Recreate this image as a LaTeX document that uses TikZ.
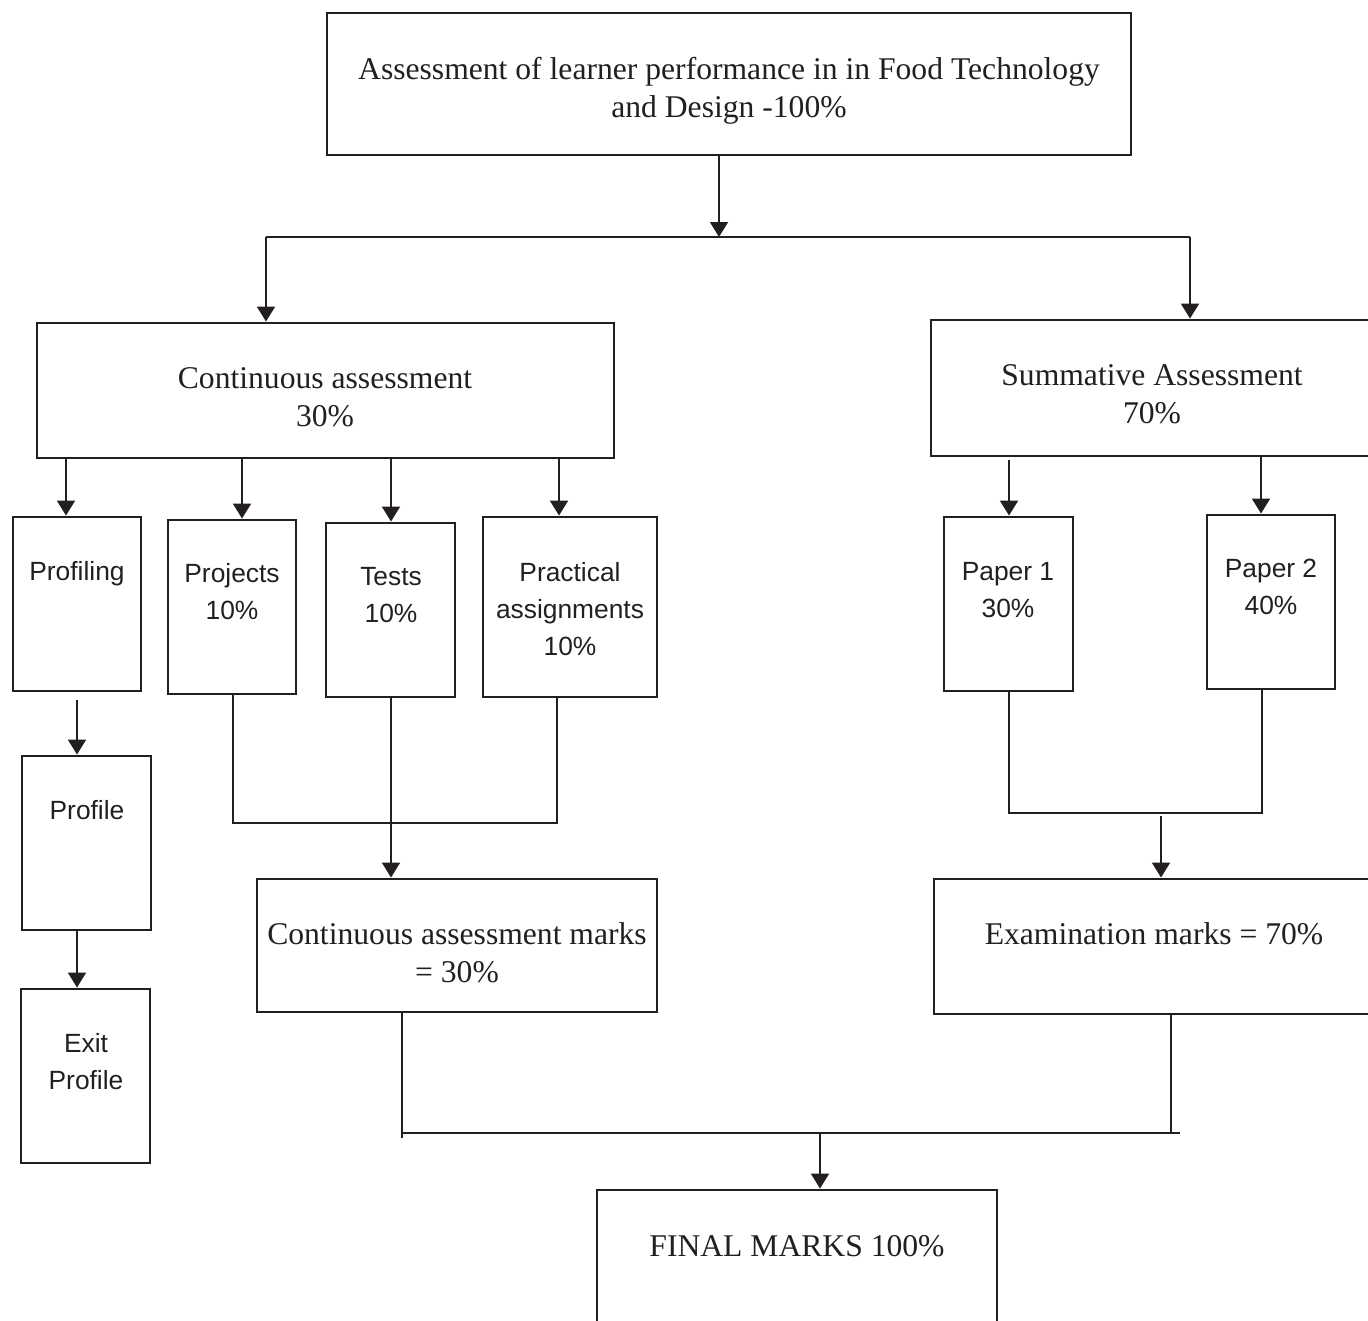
\documentclass[tikz,border=0pt]{standalone}
\usepackage{fontspec}
\setmainfont{Liberation Serif}
\setsansfont{Liberation Sans}
\usetikzlibrary{arrows.meta,fit}
\definecolor{ink}{HTML}{231F20}
\tikzset{
  box/.style={draw=ink, line width=1.6pt, inner sep=0pt},
  ln/.style={draw=ink, line width=1.6pt},
  arr/.style={draw=ink, line width=1.6pt, -{Triangle[width=10pt,length=8.5pt]}, fill=ink},
  serif/.style={text=ink, font=\fontsize{18}{21.5}\selectfont, align=center, inner sep=0pt},
  sans/.style={text=ink, font=\sffamily\fontsize{15}{21}\selectfont, align=center, inner sep=0pt}
}
\begin{document}
\begin{tikzpicture}[x=0.02cm,y=-0.02cm]
\useasboundingbox (0,0) rectangle (1368,1320);
% boxes
\node[box, fit={(327,13) (1131,155)}] (top) {};
\node[box, fit={(37,323) (614,458)}] (ca) {};
\node[box, fit={(931,320) (1390,456)}] (sa) {};
\node[box, fit={(13,517) (141,691)}] (prf) {};
\node[box, fit={(168,520) (296,694)}] (prj) {};
\node[box, fit={(326,523) (455,697)}] (tst) {};
\node[box, fit={(483,517) (657,697)}] (prc) {};
\node[box, fit={(22,756) (151,930)}] (pro) {};
\node[box, fit={(21,989) (150,1163)}] (ext) {};
\node[box, fit={(257,879) (657,1012)}] (cam) {};
\node[box, fit={(944,517) (1073,691)}] (pa1) {};
\node[box, fit={(1207,515) (1335,689)}] (pa2) {};
\node[box, fit={(934,879) (1390,1014)}] (exm) {};
\node[box, fit={(597,1190) (997,1345)}] (fin) {};
% texts
\node[serif] (ttop) at (729,91) {Assessment of learner performance in in Food Technology\\and Design -100\%};
\node[serif] (tca) at (325,397) {Continuous assessment\\30\%};
\node[serif] (tsa) at (1152,394) {Summative Assessment\\70\%};
\node[sans] (tprf) at (77,574) {Profiling};
\node[sans] (tprj) at (232,592) {Projects\\10\%};
\node[sans] (ttst) at (391,595) {Tests\\10\%};
\node[sans] (tprc) at (570,609) {Practical\\assignments\\10\%};
\node[sans] (tpro) at (87,810) {Profile};
\node[sans] (text) at (86,1062) {Exit\\Profile};
\node[serif] (tcam) at (457,953) {Continuous assessment marks\\= 30\%};
\node[sans] (tpa1) at (1008,590) {Paper 1\\30\%};
\node[sans] (tpa2) at (1271,587) {Paper 2\\40\%};
\node[serif] (texm) at (1154,934) {Examination marks = 70\%};
\node[serif] (tfin) at (797,1246) {FINAL MARKS 100\%};
% junction coordinates
\coordinate (j0) at (719,237);
\coordinate (jl) at (266,237);
\coordinate (jr) at (1190,237);
\coordinate (c1) at (66,0);
\coordinate (c2) at (242,0);
\coordinate (c3) at (391,0);
\coordinate (c4) at (559,0);
\coordinate (f1) at (77,700);
\coordinate (m1) at (233,823);
\coordinate (m3) at (557,823);
\coordinate (s1) at (1009,460);
\coordinate (s2) at (1261,0);
\coordinate (n1) at (1009,813);
\coordinate (n2) at (1262,813);
\coordinate (n3) at (1161,816);
\coordinate (e1) at (402,1138);
\coordinate (e2) at (1171,1133);
\coordinate (e3) at (1180,1133);
\coordinate (e4) at (820,1133);
% connectors
\draw[arr] (top.south -| j0) -- (j0);
\draw[ln] (jl) -- (jr);
\draw[arr] (jl) -- (jl |- ca.north);
\draw[arr] (jr) -- (jr |- sa.north);
\draw[arr] (c1 |- ca.south) -- (c1 |- prf.north);
\draw[arr] (c2 |- ca.south) -- (c2 |- prj.north);
\draw[arr] (c3 |- ca.south) -- (c3 |- tst.north);
\draw[arr] (c4 |- ca.south) -- (c4 |- prc.north);
\draw[arr] (f1) -- (f1 |- pro.north);
\draw[arr] (f1 |- pro.south) -- (f1 |- ext.north);
\draw[ln] (m1 |- prj.south) -- (m1) -- (m3) -- (m3 |- prc.south);
\draw[arr] (c3 |- tst.south) -- (c3 |- cam.north);
\draw[arr] (s1) -- (s1 |- pa1.north);
\draw[arr] (s2 |- sa.south) -- (s2 |- pa2.north);
\draw[ln] (n1 |- pa1.south) -- (n1) -- (n2) -- (n2 |- pa2.south);
\draw[arr] (n3) -- (n3 |- exm.north);
\draw[ln] (e1 |- cam.south) -- (e1);
\draw[ln] (e2 |- exm.south) -- (e2);
\draw[ln] (e1 |- e4) -- (e3);
\draw[arr] (e4) -- (e4 |- fin.north);
\end{tikzpicture}
\end{document}
